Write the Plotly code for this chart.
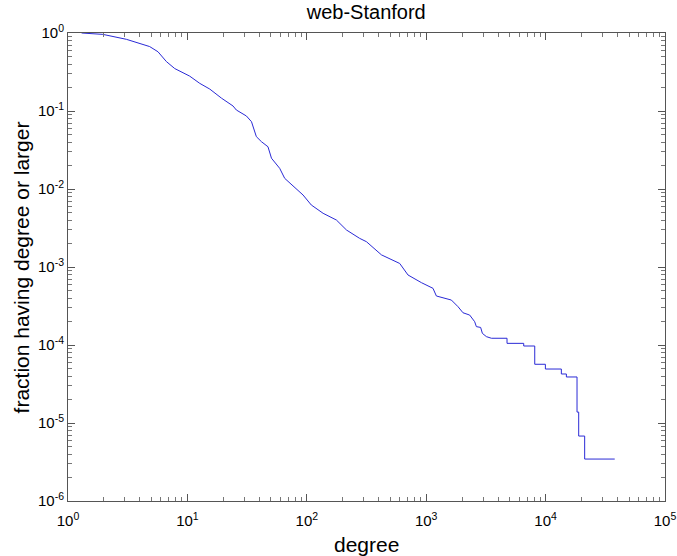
import plotly.graph_objects as go

# Complementary cumulative degree distribution
degree = [1.3, 1.73, 1.96, 3.08, 4.83, 5.67, 6.67, 7.83, 10.45, 12.7, 15.4, 19.3, 21.2,
          24.1, 25.7, 31.2, 34.4, 37.8, 41.7, 47.3, 50.6, 59.3, 65.3, 93, 109, 137, 177,
          215, 277, 316, 422, 600, 704, 912, 1140, 1217, 1625, 1846, 2033, 2312, 2547,
          2631, 2858, 2955, 3193, 3516,
          4753, 4753, 6557, 6557, 8110, 8110, 9960, 9960, 13550, 13550, 14930, 14930,
          18330, 18330, 18930, 18930, 21240, 21240, 37930]
fraction = [1.0, 0.97, 0.96, 0.83, 0.67, 0.575, 0.43, 0.35, 0.28, 0.226, 0.191, 0.146, 0.132,
            0.116, 0.103, 0.0863, 0.073, 0.0469, 0.0404, 0.0348, 0.0248, 0.0184, 0.0137,
            0.00838, 0.00624, 0.00488, 0.0040, 0.00298, 0.00233, 0.00211, 0.00143, 0.00111,
            0.00079, 0.00063, 0.000533, 0.000425, 0.000377, 0.00031, 0.000259, 0.000242,
            0.000199, 0.000172, 0.000168, 0.000141, 0.000128, 0.000122,
            0.000122, 0.000105, 0.000105, 0.0000971, 0.0000971, 0.0000566, 0.0000566,
            0.0000492, 0.0000492, 0.0000425, 0.0000425, 0.0000389, 0.0000389, 0.0000138,
            0.0000138, 0.0000068, 0.0000068, 0.00000345, 0.00000345]

x_exponents = [0, 1, 2, 3, 4, 5]
y_exponents = [-6, -5, -4, -3, -2, -1, 0]

title_text = "web-Stanford"
x_label = "degree"
y_label = "fraction having degree or larger"

FONT = "Liberation Sans, Arial, Helvetica, sans-serif"


def decade_ticks(exps):
    vals = [10.0 ** e for e in exps]
    text = ["10<sup>%d</sup>" % e for e in exps]
    minors = [m * 10.0 ** e for e in exps[:-1] for m in range(2, 10)]
    return vals, text, minors


xv, xt, xm = decade_ticks(x_exponents)
yv, yt, ym = decade_ticks(y_exponents)

fig = go.Figure()
fig.add_trace(go.Scatter(x=degree, y=fraction, mode="lines",
                         line=dict(color="#2a2ad6", width=1), showlegend=False))

axis_common = dict(
    type="log", showgrid=False, zeroline=False, showline=True, mirror="ticks",
    linecolor="#555555", linewidth=1, ticks="inside", ticklen=7, tickcolor="#555555",
    tickfont=dict(family=FONT, size=15, color="#000000"), automargin=False,
)

fig.update_xaxes(range=[0, 5], tickmode="array", tickvals=xv, ticktext=xt,
                 ticklabelstandoff=6,
                 minor=dict(ticks="inside", ticklen=4, tickcolor="#777777", showgrid=False,
                            tickmode="array", tickvals=xm),
                 **axis_common)
fig.update_yaxes(range=[-6, 0], tickmode="array", tickvals=yv, ticktext=yt,
                 minor=dict(ticks="inside", ticklen=4, tickcolor="#777777", showgrid=False,
                            tickmode="array", tickvals=ym),
                 **axis_common)

fig.update_layout(
    width=677, height=556,
    margin=dict(l=68, r=12, t=33, b=55, autoexpand=False),
    paper_bgcolor="white", plot_bgcolor="white",
    title=dict(text=title_text, x=0.541, xanchor="center", y=0.978, yanchor="middle",
               font=dict(family=FONT, size=20, color="#000")),
    annotations=[
        dict(text=x_label, xref="paper", yref="paper", x=0.5, y=-0.094,
             xanchor="center", yanchor="middle", showarrow=False,
             font=dict(family=FONT, size=21, color="#000")),
        dict(text=y_label, xref="paper", yref="paper", x=-0.078, y=0.5,
             xanchor="center", yanchor="middle", textangle=-90, showarrow=False,
             font=dict(family=FONT, size=21, color="#000")),
    ],
)

fig.write_html("out.html")
